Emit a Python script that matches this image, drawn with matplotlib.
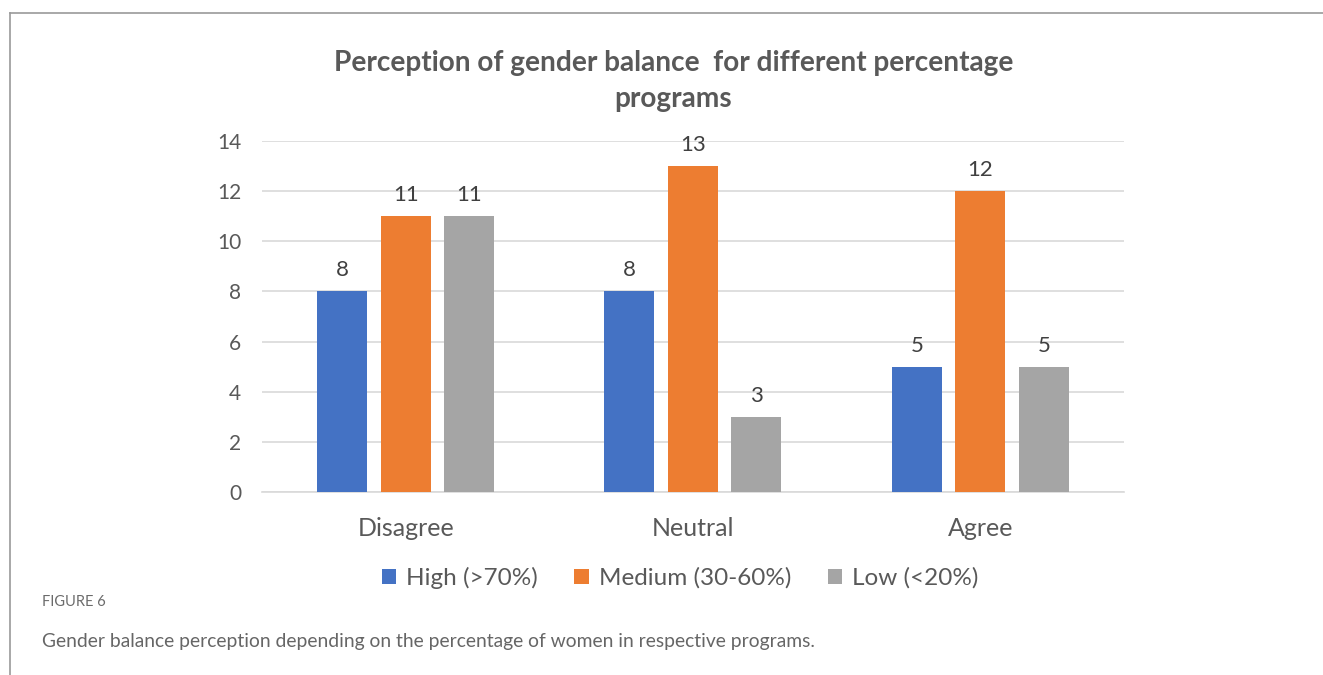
import numpy as np
import matplotlib.pyplot as plt
from matplotlib.lines import Line2D

# data
categories = ["Disagree", "Neutral", "Agree"]
series_names = ["High (>70%)", "Medium (30-60%)", "Low (<20%)"]
high = [8, 8, 5]
medium = [11, 13, 12]
low = [11, 3, 5]

colors = ["#4472C4", "#ED7D31", "#A5A5A5"]
txt = "#595959"

plt.rcParams['font.family'] = ['Lato', 'DejaVu Sans']

fig = plt.figure(figsize=(13.23, 6.75), dpi=100)
ax = fig.add_axes([0.198, 0.2711, 0.6516, 0.52])

x = np.arange(len(categories))
width = 0.174
step = 0.221
for i, (vals, name) in enumerate(zip([high, medium, low], series_names)):
    bars = ax.bar(x + (i - 1) * step, vals, width, color=colors[i], label=name, zorder=3)
    ax.bar_label(bars, padding=8, fontsize=16, color="#404040")

ax.set_xlim(-0.5, 2.5)
ax.set_ylim(0, 14)
ax.set_yticks(range(0, 15, 2))
ax.set_xticks(x)
ax.set_xticklabels(categories, fontsize=18, color=txt)
ax.tick_params(axis='y', labelsize=15, labelcolor=txt, length=0, pad=15)
ax.tick_params(axis='x', length=0, pad=18)
ax.grid(axis='y', color="#D9D9D9", linewidth=1.2, zorder=0)
for s in ["top", "right", "left"]:
    ax.spines[s].set_visible(False)
ax.spines["bottom"].set_color("#D9D9D9")
ax.spines["bottom"].set_linewidth(1.2)

fig.text(0.509, 1 - 81 / 675, "Perception of gender balance  for different percentage\nprograms",
         ha="center", va="center", fontsize=20.2, fontweight="bold", color=txt,
         linespacing=1.45)

ax.legend(loc="center", bbox_to_anchor=(0.485, -0.245), ncol=3, frameon=False,
          fontsize=17.5, handlelength=0.6, handleheight=0.6, handletextpad=0.4,
          columnspacing=1.5, labelcolor=txt)

# frame lines of the page
fig.add_artist(Line2D([9.5 / 1323, 1], [1 - 12.5 / 675, 1 - 12.5 / 675], color="#9A9A9A", linewidth=1.2))
fig.add_artist(Line2D([9.5 / 1323, 9.5 / 1323], [0, 1 - 12.5 / 675], color="#9A9A9A", linewidth=1.2))

fig.text(42 / 1323, 1 - 602 / 675, "FIGURE 6", fontsize=10.5, color="#6B6B6B", va="center")
fig.text(42 / 1323, 1 - 641 / 675,
         "Gender balance perception depending on the percentage of women in respective programs.",
         fontsize=13.9, color="#666666", va="center")

fig.savefig("out.png", dpi=100)
